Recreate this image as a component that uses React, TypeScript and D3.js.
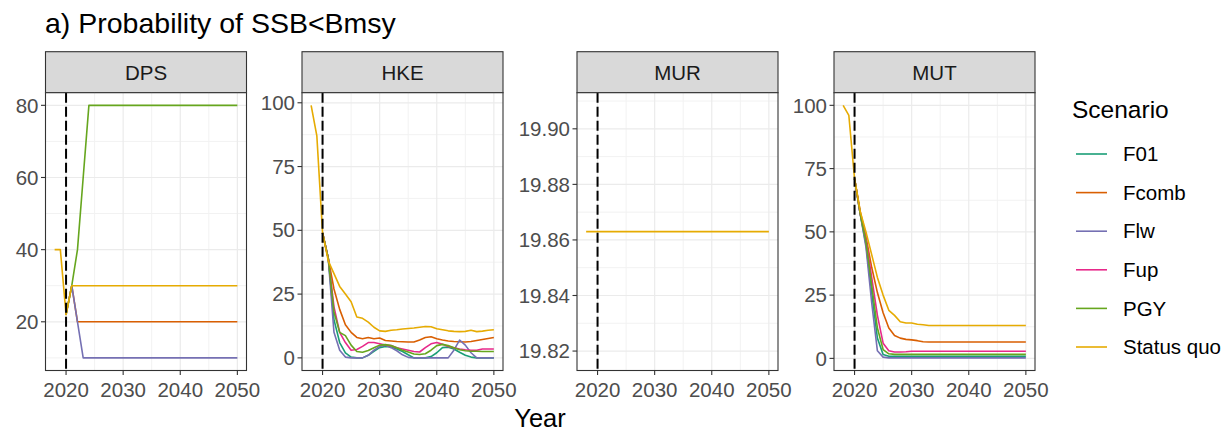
import React from 'react';
import * as d3 from 'd3';

// Scenario names and colours (ggplot Dark2)
const scenarios = ["F01", "Fcomb", "Flw", "Fup", "PGY", "Status quo"];
const scenarioColors = ["#1B9E77", "#D95F02", "#7570B3", "#E7298A", "#66A61E", "#E6AB02"];

const stocks = ["DPS", "HKE", "MUR", "MUT"];

const historyYears = [2018, 2019];
const projYears = [2020, 2021, 2022, 2023, 2024, 2025, 2026, 2027, 2028, 2029, 2030,
  2031, 2032, 2033, 2034, 2035, 2036, 2037, 2038, 2039, 2040,
  2041, 2042, 2043, 2044, 2045, 2046, 2047, 2048, 2049, 2050];
const xTicks = [2020, 2030, 2040, 2050];
const xMinor = [2025, 2035, 2045];
const refYear = 2020;

// DPS (F01 / Fup are hidden under other lines in the figure)
const dpsHistory = [40, 40];
const dpsFcomb = [22, 30, 20, 20, 20, 20, 20, 20, 20, 20, 20, 20, 20, 20, 20, 20, 20, 20, 20, 20, 20, 20, 20, 20, 20, 20, 20, 20, 20, 20, 20];
const dpsFlw = [22, 30, 20, 10, 10, 10, 10, 10, 10, 10, 10, 10, 10, 10, 10, 10, 10, 10, 10, 10, 10, 10, 10, 10, 10, 10, 10, 10, 10, 10, 10];
const dpsPGY = [22, 30, 40, 60, 80, 80, 80, 80, 80, 80, 80, 80, 80, 80, 80, 80, 80, 80, 80, 80, 80, 80, 80, 80, 80, 80, 80, 80, 80, 80, 80];
const dpsSQ = [22, 30, 30, 30, 30, 30, 30, 30, 30, 30, 30, 30, 30, 30, 30, 30, 30, 30, 30, 30, 30, 30, 30, 30, 30, 30, 30, 30, 30, 30, 30];
const dpsTicks = [20, 40, 60, 80];

// HKE
const hkeHistory = [99, 87];
const hkeF01 = [49, 39, 15, 6, 2, 0.3, 0, 0, 1, 2.6, 4, 4.5, 4.3, 3.5, 2.5, 1.2, 0, 0, 0, 0.5, 2, 4, 4.2, 3.5, 2.2, 1, 0.3, 0, 0, 0, 0];
const hkeFcomb = [49, 39, 27, 19, 13, 10, 8, 7.5, 8, 7.5, 7.8, 6.8, 6.6, 6.4, 6.3, 6.2, 6.2, 7, 8, 8.3, 7.5, 7, 6.6, 6.4, 6.3, 6.2, 6.4, 6.8, 7.2, 7.6, 8];
const hkeFlw = [49, 39, 10, 3, 0.3, 0, 0, 0, 1, 3, 4.5, 5, 4, 2.8, 1.2, 0.2, 0, 0, 0, 0, 0, 0, 0, 3, 7, 5, 2, 0, 0, 0, 0];
const hkeFup = [49, 39, 20, 10, 6, 3, 3.3, 4.5, 6, 6, 5.5, 5, 4.8, 4, 3.5, 3, 2.5, 2.3, 4, 5.5, 6, 5.3, 4.5, 4, 3.5, 3.2, 3, 3, 3.5, 3.5, 3.5];
const hkePGY = [49, 39, 18, 10, 8.7, 5, 2.5, 2.2, 2.9, 4, 5, 5.2, 4.8, 4, 3, 2.3, 1.5, 1.3, 1.6, 3, 4.8, 5.3, 4.8, 4, 3.2, 2.8, 2.6, 2.6, 2.5, 2.5, 2.5];
const hkeSQ = [49, 38, 33, 28, 25, 22, 16, 15.5, 14, 12, 10.6, 10.4, 10.8, 11, 11.3, 11.5, 11.7, 12, 12.3, 12.2, 11.4, 11, 10.6, 10.4, 10.3, 10.4, 10.8, 10.3, 10.5, 10.8, 11];
const hkeTicks = [0, 25, 50, 75, 100];

// MUR (only status quo visible)
const murHistory = [19.863, 19.863];
const murSQ = [19.863, 19.863, 19.863, 19.863, 19.863, 19.863, 19.863, 19.863, 19.863, 19.863, 19.863, 19.863, 19.863, 19.863, 19.863, 19.863, 19.863, 19.863, 19.863, 19.863, 19.863, 19.863, 19.863, 19.863, 19.863, 19.863, 19.863, 19.863, 19.863, 19.863, 19.863];
const murTicks = [19.82, 19.84, 19.86, 19.88, 19.90];

// MUT
const mutHistory = [100, 96];
const mutF01 = [71, 57, 45, 26, 8, 1.5, 0.8, 0.8, 0.8, 0.8, 0.8, 0.8, 0.8, 0.8, 0.8, 0.8, 0.8, 0.8, 0.8, 0.8, 0.8, 0.8, 0.8, 0.8, 0.8, 0.8, 0.8, 0.8, 0.8, 0.8, 0.8];
const mutFcomb = [71, 58, 48, 36, 26, 18, 12, 9, 8, 7.5, 7.3, 7, 6.6, 6.5, 6.5, 6.5, 6.5, 6.5, 6.5, 6.5, 6.5, 6.5, 6.5, 6.5, 6.5, 6.5, 6.5, 6.5, 6.5, 6.5, 6.5];
const mutFlw = [71, 57, 44, 22, 3, 0.5, 0.2, 0.2, 0.2, 0.2, 0.2, 0.2, 0.2, 0.2, 0.2, 0.2, 0.2, 0.2, 0.2, 0.2, 0.2, 0.2, 0.2, 0.2, 0.2, 0.2, 0.2, 0.2, 0.2, 0.2, 0.2];
const mutFup = [71, 57, 47, 32, 17, 6, 3, 2.5, 2.5, 2.6, 2.8, 2.8, 2.8, 2.8, 2.8, 2.8, 2.8, 2.8, 2.8, 2.8, 2.8, 2.8, 2.8, 2.8, 2.8, 2.8, 2.8, 2.8, 2.8, 2.8, 2.8];
const mutPGY = [71, 57, 46, 29, 12, 3.5, 1.8, 1.6, 1.6, 1.6, 1.6, 1.6, 1.6, 1.6, 1.6, 1.6, 1.6, 1.6, 1.6, 1.6, 1.6, 1.6, 1.6, 1.6, 1.6, 1.6, 1.6, 1.6, 1.6, 1.6, 1.6];
const mutSQ = [71, 58, 50, 41, 32, 25, 19, 17, 14.5, 14, 14, 13.5, 13.3, 13, 13, 13, 13, 13, 13, 13, 13, 13, 13, 13, 13, 13, 13, 13, 13, 13, 13];
const mutTicks = [0, 25, 50, 75, 100];

const panelData = [
  { history: dpsHistory, series: [null, dpsFcomb, dpsFlw, null, dpsPGY, dpsSQ], ticks: dpsTicks, fmt: d3.format("d") },
  { history: hkeHistory, series: [hkeF01, hkeFcomb, hkeFlw, hkeFup, hkePGY, hkeSQ], ticks: hkeTicks, fmt: d3.format("d") },
  { history: murHistory, series: [null, null, null, null, null, murSQ], ticks: murTicks, fmt: d3.format(".2f") },
  { history: mutHistory, series: [mutF01, mutFcomb, mutFlw, mutFup, mutPGY, mutSQ], ticks: mutTicks, fmt: d3.format("d") },
];

// layout
const W = 1229;
const H = 435;
const panelLefts = [45.5, 302, 577, 834];
const panelW = 201;
const stripTop = 51.7;
const panelTop = 92.7;
const panelBottom = 370.5;
const font = "'Liberation Sans', Arial, sans-serif";
const axisGrey = "#4D4D4D";
const borderGrey = "#333333";
const tickFont = 20.5;

type Pt = { year: number; value: number };

function Panel({ idx }: { idx: number }) {
  const p = panelData[idx];
  const left = panelLefts[idx];
  const x = d3.scaleLinear().domain([2016.4, 2051.6]).range([left, left + panelW]);

  const all: number[] = [...p.history];
  p.series.forEach(s => { if (s) all.push(...s); });
  let [lo, hi] = d3.extent(all) as [number, number];
  if (hi - lo < 1e-9) { lo -= 0.05; hi += 0.05; }
  else { const e = (hi - lo) * 0.05; lo -= e; hi += e; }
  const y = d3.scaleLinear().domain([lo, hi]).range([panelBottom, panelTop]);

  const step = p.ticks[1] - p.ticks[0];
  const minorY = [p.ticks[0] - step / 2, ...p.ticks.map(t => t + step / 2)].filter(v => v > lo && v < hi);

  const line = d3.line<Pt>().x(d => x(d.year)).y(d => y(d.value));

  const sqIdx = scenarios.length - 1;
  return (
    <g>
      {/* strip */}
      <rect x={left} y={stripTop} width={panelW} height={panelTop - stripTop} fill="#D9D9D9" stroke={borderGrey} strokeWidth={1.1} />
      <text x={left + panelW / 2} y={80} textAnchor="middle" fontSize={tickFont} fill="#1A1A1A" fontFamily={font}>{stocks[idx]}</text>
      {/* panel background + grid */}
      <rect x={left} y={panelTop} width={panelW} height={panelBottom - panelTop} fill="#FFFFFF" />
      {minorY.map(v => <line key={'my' + v} x1={left} x2={left + panelW} y1={y(v)} y2={y(v)} stroke="#F2F2F2" strokeWidth={1} />)}
      {xMinor.map(v => <line key={'mx' + v} x1={x(v)} x2={x(v)} y1={panelTop} y2={panelBottom} stroke="#F2F2F2" strokeWidth={1} />)}
      {p.ticks.map(v => <line key={'gy' + v} x1={left} x2={left + panelW} y1={y(v)} y2={y(v)} stroke="#EBEBEB" strokeWidth={1.2} />)}
      {xTicks.map(v => <line key={'gx' + v} x1={x(v)} x2={x(v)} y1={panelTop} y2={panelBottom} stroke="#EBEBEB" strokeWidth={1.2} />)}
      {/* series */}
      {p.series.map((s, i) => {
        if (!s) return null;
        const pts: Pt[] = s.map((v, j) => ({ year: projYears[j], value: v }));
        const full = i === sqIdx ? [...p.history.map((v, j) => ({ year: historyYears[j], value: v })), ...pts] : pts;
        return <path key={scenarios[i]} d={line(full) || ''} fill="none" stroke={scenarioColors[i]} strokeWidth={1.6} strokeLinejoin="round" />;
      })}
      {/* reference year */}
      <line x1={x(refYear)} x2={x(refYear)} y1={panelTop} y2={panelBottom} stroke="#000" strokeWidth={2} strokeDasharray="10 4" />
      {/* border */}
      <rect x={left} y={panelTop} width={panelW} height={panelBottom - panelTop} fill="none" stroke={borderGrey} strokeWidth={1.1} />
      {/* y axis */}
      {p.ticks.map(v => (
        <g key={'ty' + v}>
          <line x1={left - 4.5} x2={left} y1={y(v)} y2={y(v)} stroke={borderGrey} strokeWidth={1.1} />
          <text x={left - 7} y={y(v)} dy="0.35em" textAnchor="end" fontSize={tickFont} fill={axisGrey} fontFamily={font}>{p.fmt(v)}</text>
        </g>
      ))}
      {/* x axis */}
      {xTicks.map(v => (
        <g key={'tx' + v}>
          <line x1={x(v)} x2={x(v)} y1={panelBottom} y2={panelBottom + 4.5} stroke={borderGrey} strokeWidth={1.1} />
          <text x={x(v)} y={397} textAnchor="middle" fontSize={tickFont} fill={axisGrey} fontFamily={font}>{v}</text>
        </g>
      ))}
    </g>
  );
}

export default function App() {
  const legendY = d3.scalePoint<string>().domain(scenarios).range([154, 347]);
  return (
    <div style={{ position: 'absolute', left: 0, top: 0 }}>
      <svg width={W} height={H} style={{ display: 'block', background: '#fff' }}>
        <text x={45} y={33} fontSize={28.5} fill="#000" fontFamily={font}>a) Probability of SSB&lt;Bmsy</text>
        {stocks.map((s, i) => <Panel key={s} idx={i} />)}
        <text x={540} y={427} textAnchor="middle" fontSize={25.5} fill="#000" fontFamily={font}>Year</text>
        {/* legend */}
        <text x={1072} y={118} fontSize={24.5} fill="#000" fontFamily={font}>Scenario</text>
        {scenarios.map((s, i) => (
          <g key={s}>
            <line x1={1076} x2={1107} y1={legendY(s)} y2={legendY(s)} stroke={scenarioColors[i]} strokeWidth={1.6} />
            <text x={1123} y={legendY(s)} dy="0.35em" fontSize={20.5} fill="#000" fontFamily={font}>{s}</text>
          </g>
        ))}
      </svg>
    </div>
  );
}
